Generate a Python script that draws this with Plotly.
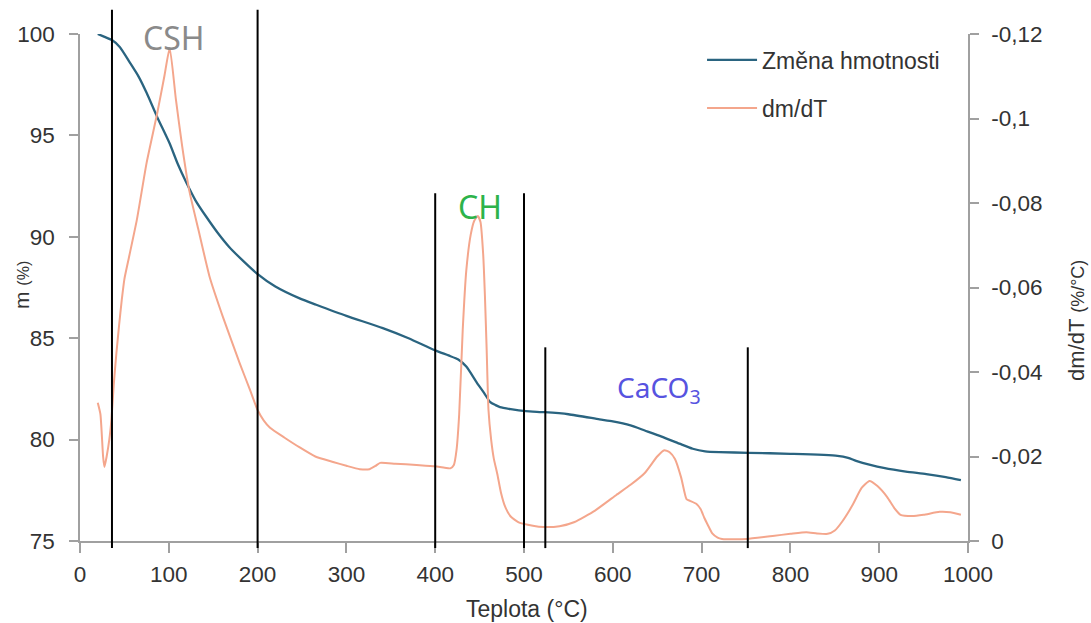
import plotly.graph_objects as go

# --- Thermogravimetric data -------------------------------------------------
# mass change curve (left axis, %)
temp_mass = [20, 27, 36, 45, 56, 66, 75, 87, 101, 110, 120, 130, 142, 155, 168,
             184, 199, 220, 248, 266, 300, 341, 370, 400, 415, 426, 435, 447,
             455, 462, 468, 473, 485, 502, 523, 550, 585, 600, 620, 636, 655,
             675, 690, 704, 720, 753, 800, 853, 865, 874, 890, 905, 930, 953,
             975, 992]
mass = [100.0, 99.87, 99.7, 99.35, 98.6, 97.9, 97.1, 95.9, 94.6, 93.6, 92.65,
        91.8, 91.0, 90.2, 89.5, 88.8, 88.2, 87.55, 86.95, 86.65, 86.1, 85.5,
        85.0, 84.4, 84.15, 83.95, 83.6, 82.8, 82.3, 81.85, 81.7, 81.6, 81.5,
        81.4, 81.35, 81.25, 81.0, 80.9, 80.7, 80.45, 80.15, 79.8, 79.55, 79.42,
        79.38, 79.35, 79.3, 79.2, 79.1, 78.95, 78.75, 78.6, 78.42, 78.3, 78.15,
        78.0]

# derivative curve dm/dT (right axis, %/°C)
temp_dtg = [20, 23, 26, 27.5, 30, 33, 35.5, 38, 41, 44, 47, 50, 55, 64, 75, 87,
            95, 101, 108, 115, 123, 133, 146, 161, 180, 191, 200, 207, 214,
            230, 247, 265, 285, 300, 315, 326, 333, 338, 355, 379, 400, 417,
            421, 424, 427, 431, 435, 440, 444, 448, 451, 454, 456, 458, 460,
            463, 466, 470, 474, 479, 485, 494, 510, 522, 540, 557, 580, 604,
            620, 636, 650, 658, 664, 670, 677, 683, 687, 694, 699, 703, 707,
            712, 718, 723, 740, 751, 780, 800, 818, 830, 842, 850, 858, 870,
            880, 889, 898, 909, 917, 924, 937, 950, 968, 980, 992]
dtg = [-0.0327, -0.030, -0.020, -0.0175, -0.020, -0.024, -0.029, -0.037,
       -0.0445, -0.051, -0.057, -0.062, -0.067, -0.076, -0.0895, -0.1013,
       -0.110, -0.1167, -0.1045, -0.0935, -0.083, -0.074, -0.0625,
       -0.0530, -0.0420, -0.0360, -0.0310, -0.0285, -0.0268, -0.0245, -0.0222,
       -0.020, -0.0187, -0.0178, -0.017, -0.017, -0.0178, -0.0185, -0.0183,
       -0.018, -0.0177, -0.0172, -0.018, -0.0215, -0.030, -0.050, -0.064,
       -0.0725, -0.0758, -0.0769, -0.0755, -0.068, -0.058, -0.045, -0.031,
       -0.024, -0.0195, -0.0158, -0.0115, -0.0080, -0.0058, -0.0044, -0.0036,
       -0.0033, -0.0035, -0.0045, -0.0072, -0.0109, -0.0133, -0.0161, -0.0200,
       -0.0215, -0.0210, -0.0194, -0.0150, -0.0099, -0.0095, -0.0088, -0.0075,
       -0.0055, -0.0038, -0.0018, -0.0008, -0.0005, -0.0004, -0.0005, -0.0012,
       -0.0017, -0.0021, -0.0018, -0.0017, -0.0025, -0.0045, -0.0085, -0.0125,
       -0.0142, -0.013, -0.0104, -0.0078, -0.0062, -0.0059, -0.0062, -0.0069,
       -0.0068, -0.0062]

# axis settings
x_ticks = list(range(0, 1001, 100))
mass_range = [75, 100]
mass_ticks = [75, 80, 85, 90, 95, 100]
dtg_ticks = [0, -0.02, -0.04, -0.06, -0.08, -0.1, -0.12]
dtg_ticktext = ["0", "-0,02", "-0,04", "-0,06", "-0,08", "-0,1", "-0,12"]

# decomposition region boundaries: (temperature, top of line in % mass)
region_lines = [(36, 101.2), (200, 101.2), (400, 92.15), (500, 92.15),
                (524, 84.55), (752, 84.55)]
line_bottom = 74.65

# phase labels: (text, temperature, mass %, colour, size)
phase_labels = [("CSH", 106, 99.85, "#8a8a8a", 32),
                ("CH", 451, 91.5, "#2db34a", 32),
                ("CaCO<sub>3</sub>", 652, 82.5, "#5753e0", 28)]

MASS_COLOR = "#2a6480"
DTG_COLOR = "#f4a68c"
AXIS_COLOR = "#a0a0a0"
TEXT_COLOR = "#333333"
FONT = "Liberation Sans"


def mass_frac(v):
    """Position of a mass value as a fraction of the left-axis span."""
    return (v - mass_range[0]) / (mass_range[1] - mass_range[0])


fig = go.Figure()

fig.add_trace(go.Scatter(
    x=temp_mass, y=mass, name="Změna hmotnosti", mode="lines",
    line=dict(color=MASS_COLOR, width=2.3, shape="spline", smoothing=0.6),
    legend="legend", yaxis="y", showlegend=True))

fig.add_trace(go.Scatter(
    x=temp_dtg, y=dtg, name="dm/dT", mode="lines",
    line=dict(color=DTG_COLOR, width=2, shape="spline", smoothing=0.5),
    legend="legend2", yaxis="y2", showlegend=True))

shapes = []
for t, top in region_lines:
    shapes.append(dict(type="line", xref="x", yref="paper",
                       x0=t, x1=t, y0=mass_frac(line_bottom), y1=mass_frac(top),
                       line=dict(color="black", width=2)))

annotations = []
for text, t, m, col, size in phase_labels:
    annotations.append(dict(text=text, x=t, y=m, xref="x", yref="y",
                            showarrow=False, xanchor="center", yanchor="middle",
                            font=dict(family="Noto Sans", size=size, color=col)))

# axis titles
annotations.append(dict(text="Teplota (°C)", x=0.503, y=-0.134, xref="paper",
                        yref="paper", showarrow=False, xanchor="center",
                        yanchor="middle",
                        font=dict(family=FONT, size=23, color=TEXT_COLOR)))
annotations.append(dict(text="m <span style='font-size:16px'>(%)</span>",
                        x=-0.0653, y=0.505, xref="paper", yref="paper",
                        textangle=-90, showarrow=False, xanchor="center",
                        yanchor="middle",
                        font=dict(family=FONT, size=21, color=TEXT_COLOR)))
annotations.append(dict(text="dm/dT <span style='font-size:18px'>(%/°C)</span>",
                        x=1.1227, y=0.436, xref="paper", yref="paper",
                        textangle=-90, showarrow=False, xanchor="center",
                        yanchor="middle",
                        font=dict(family=FONT, size=22, color=TEXT_COLOR)))

axis_common = dict(showline=True, linecolor=AXIS_COLOR, linewidth=1.5,
                   ticks="outside", tickcolor=AXIS_COLOR, tickwidth=1.5,
                   showgrid=False, zeroline=False,
                   tickfont=dict(family=FONT, size=22.5, color=TEXT_COLOR))

legend_common = dict(xanchor="left", yanchor="middle", bgcolor="rgba(0,0,0,0)",
                     itemwidth=50,
                     font=dict(family=FONT, size=23, color=TEXT_COLOR))

fig.update_layout(
    width=1091, height=623,
    margin=dict(l=80, r=123, t=34, b=82),
    paper_bgcolor="white", plot_bgcolor="white",
    font=dict(family=FONT, color=TEXT_COLOR),
    showlegend=True,
    xaxis=dict(range=[0, 1000], tickvals=x_ticks, ticklen=10,
               ticklabelstandoff=2, **axis_common),
    yaxis=dict(range=mass_range, tickvals=mass_ticks, ticklen=9,
               ticklabelstandoff=10, **axis_common),
    yaxis2=dict(range=[0, -0.12], tickvals=dtg_ticks, ticktext=dtg_ticktext,
                overlaying="y", side="right", ticklen=9, ticklabelstandoff=8,
                **axis_common),
    legend=dict(x=0.7005, y=0.9487, **legend_common),
    legend2=dict(x=0.7005, y=0.854, **legend_common),
    shapes=shapes,
    annotations=annotations,
)

fig.write_html("out.html")
